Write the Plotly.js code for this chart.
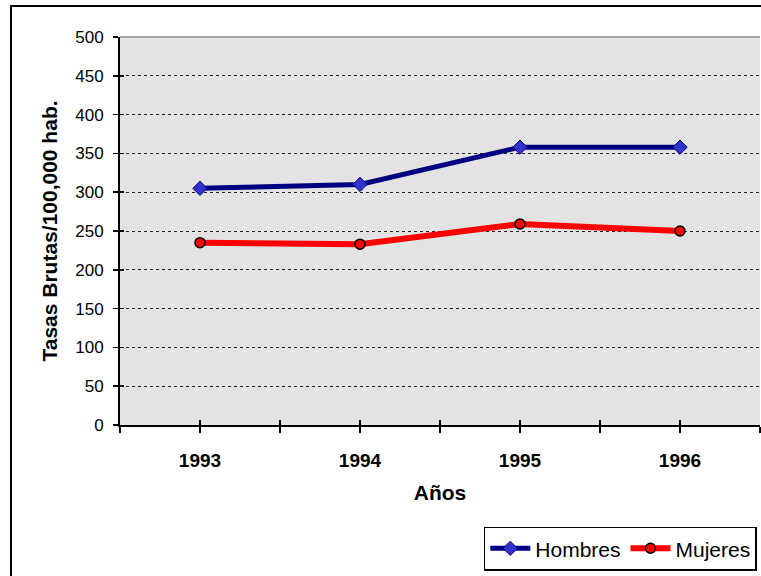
<!DOCTYPE html>
<html>
<head>
<meta charset="utf-8">
<script src="https://cdn.plot.ly/plotly-3.0.1.min.js"></script>
<style>
  html, body { margin:0; padding:0; background:#fff; overflow:hidden; }
  #chart { position:absolute; left:0; top:0; width:761px; height:576px; }
  #frame { position:absolute; left:10px; top:5px; width:900px; height:700px; border:2px solid #000; pointer-events:none; }
</style>
</head>
<body>
<div id="chart"></div>
<div id="frame"></div>
<script>
const years = ['1993', '1994', '1995', '1996'];
const hombres = [305, 310, 358, 358];
const mujeres = [235, 233, 259, 250];

const idx = years.map((_, i) => i);
const tickVals = [];
const tickText = [];
for (let i = 0; i < years.length; i++) {
  tickVals.push(i - 0.5); tickText.push('');
  tickVals.push(i); tickText.push(years[i]);
}
tickVals.push(years.length - 0.5); tickText.push('');

const FONT = 'Liberation Sans, Arial, sans-serif';

const traces = [
  {
    x: idx, y: hombres, name: 'Hombres', type: 'scatter', mode: 'lines+markers',
    line: {color: '#000080', width: 5},
    marker: {symbol: 'diamond', size: 11, color: '#3333CC', line: {color: '#000080', width: 1}}
  },
  {
    x: idx, y: mujeres, name: 'Mujeres', type: 'scatter', mode: 'lines+markers',
    line: {color: '#FF0000', width: 6},
    marker: {symbol: 'circle', size: 10, color: '#FF0000', line: {color: '#000000', width: 1.5}}
  },
  { x: [0], y: [0], xaxis: 'x2', yaxis: 'y2', showlegend: false, hoverinfo: 'skip',
    mode: 'markers', marker: {opacity: 0} }
];

const layout = {
  width: 761, height: 576,
  margin: {l: 120, r: 1, t: 37, b: 151},
  paper_bgcolor: 'rgba(0,0,0,0)',
  plot_bgcolor: '#E3E3E3',
  showlegend: true,
  font: {family: FONT, color: '#000'},
  xaxis: {
    range: [-0.5, years.length - 0.5],
    tickmode: 'array', tickvals: tickVals, ticktext: tickText,
    ticks: 'outside', ticklen: 6, tickwidth: 1.5, tickcolor: '#000',
    ticklabelstandoff: 11,
    tickfont: {family: FONT, size: 19, color: '#000', weight: 'bold'},
    showgrid: false, zeroline: false,
    showline: true, linecolor: '#000', linewidth: 2,
    title: {text: 'Años', font: {family: FONT, size: 21, weight: 'bold', color: '#000'}, standoff: 16}
  },
  yaxis: {
    range: [0, 500], dtick: 50, tick0: 0,
    ticks: 'outside', ticklen: 5, tickwidth: 1.5, tickcolor: '#000',
    ticklabelstandoff: 6,
    tickfont: {family: FONT, size: 17, color: '#000'},
    showgrid: true, gridcolor: '#222', gridwidth: 1, griddash: 'dot',
    zeroline: false,
    showline: true, linecolor: '#000', linewidth: 2,
    title: {text: 'Tasas Brutas/100,000 hab.', font: {family: FONT, size: 21, weight: 'bold', color: '#000'}, standoff: 12}
  },
  xaxis2: {
    overlaying: 'x', matches: 'x', range: [-0.5, years.length - 0.5],
    tickmode: 'array', tickvals: tickVals, ticktext: tickVals.map(() => ''),
    ticks: 'inside', ticklen: 5, tickwidth: 1.5, tickcolor: '#000',
    showgrid: false, zeroline: false, showline: false, showticklabels: false
  },
  yaxis2: {
    overlaying: 'y', matches: 'y', range: [0, 500], dtick: 50, tick0: 0,
    ticks: 'inside', ticklen: 4, tickwidth: 1.5, tickcolor: '#000',
    showgrid: false, zeroline: false, showline: false, showticklabels: false
  },
  shapes: [
    {type: 'line', xref: 'paper', yref: 'paper', x0: 0, x1: 1, y0: 1, y1: 1,
     line: {color: '#888', width: 1.5}}
  ],
  legend: {
    orientation: 'h', xanchor: 'right', yanchor: 'top', x: 0.995, y: -0.262,
    bgcolor: '#fff', bordercolor: '#000', borderwidth: 1.5,
    font: {family: FONT, size: 21, color: '#000'},
    itemwidth: 40, tracegroupgap: 0
  }
};

Plotly.newPlot('chart', traces, layout, {displayModeBar: false, staticPlot: true});
</script>
</body>
</html>
